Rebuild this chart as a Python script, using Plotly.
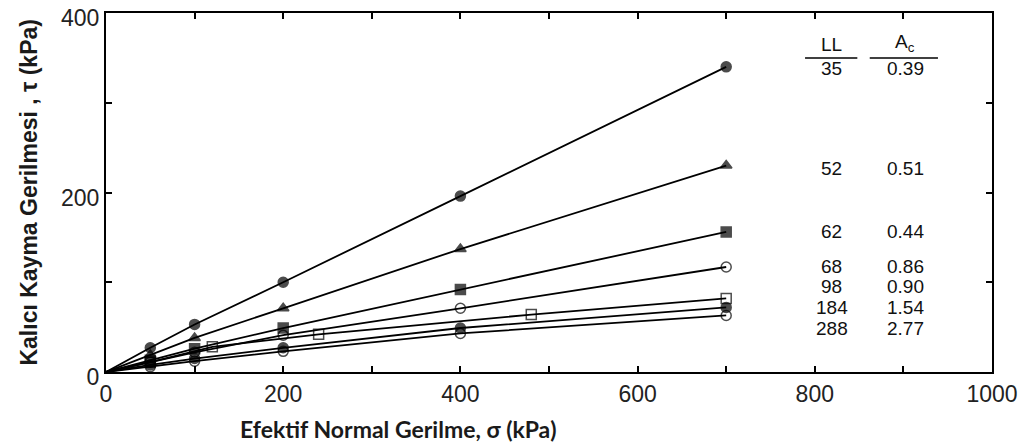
import plotly.graph_objects as go

# ---- data ----
sigma_std = [0, 50, 100, 200, 400, 700]
sigma_ll98 = [0, 50, 120, 240, 480, 700]

tau_ll35 = [0, 27, 53, 100, 196, 340]
tau_ll52 = [0, 19, 38, 71, 137, 230]
tau_ll62 = [0, 13, 26, 49, 92, 156]
tau_ll68 = [0, 11, 22, 41, 71, 117]
tau_ll98 = [0, 11, 28, 42, 64, 82]
tau_ll184 = [0, 8, 15, 27, 49, 72]
tau_ll288 = [0, 6, 12, 23, 43, 63]

ll_labels = ["35", "52", "62", "68", "98", "184", "288"]
ac_labels = ["0.39", "0.51", "0.44", "0.86", "0.90", "1.54", "2.77"]

x_ticks = [0, 100, 200, 300, 400, 500, 600, 700, 800, 900, 1000]
x_ticktext = ["0", "", "200", "", "400", "", "600", "", "800", "", "1000"]
y_ticks = [0, 100, 200, 300, 400]
y_ticktext = ["0", "", "200", "", "400"]

# ---- styling / layout settings ----
series = [
    (sigma_std, tau_ll35, "circle"),
    (sigma_std, tau_ll52, "triangle-up"),
    (sigma_std, tau_ll62, "square"),
    (sigma_std, tau_ll68, "circle-open"),
    (sigma_ll98, tau_ll98, "square-open"),
    (sigma_std, tau_ll184, "circle"),
    (sigma_std, tau_ll288, "circle-open"),
]
label_y = [338, 227, 156, 118, 95, 72, 49]
ll_x = 819
ac_x = 902

fig = go.Figure()
for xs, ys, sym in series:
    sizes = [0] + [10] * (len(xs) - 1)
    fig.add_trace(go.Scatter(
        x=xs, y=ys, mode="lines+markers",
        line=dict(color="black", width=1.8),
        marker=dict(symbol=sym, size=sizes, color="black",
                    line=dict(color="black", width=1.5)),
        showlegend=False, hoverinfo="skip",
    ))

tick_font = dict(family="Liberation Sans, Arial", size=23, color="#222")

fig.update_xaxes(range=[0, 1000], tickvals=x_ticks, ticktext=x_ticktext,
                 ticks="inside", ticklen=6, tickwidth=1.5, tickcolor="black",
                 showline=True, linecolor="black", linewidth=2, mirror="ticks",
                 showgrid=False, zeroline=False, tickfont=tick_font, automargin=False,
                 ticklabeloverflow="allow")
fig.update_yaxes(range=[0, 400], tickvals=y_ticks, ticktext=y_ticktext,
                 ticks="inside", ticklen=6, tickwidth=1.5, tickcolor="black",
                 showline=True, linecolor="black", linewidth=2, mirror="ticks",
                 showgrid=False, zeroline=False, tickfont=tick_font, automargin=False,
                 ticklabeloverflow="allow", ticklabelshift=5)

annotations = []
txt_font = dict(family="Liberation Sans, Arial", size=19, color="#111")
for ll, ac, yy in zip(ll_labels, ac_labels, label_y):
    annotations.append(dict(x=ll_x, y=yy, xref="x", yref="y", text=ll,
                            showarrow=False, font=txt_font, borderpad=0))
    annotations.append(dict(x=ac_x, y=yy, xref="x", yref="y", text=ac,
                            showarrow=False, font=txt_font, borderpad=0))
annotations.append(dict(x=ll_x, y=365, xref="x", yref="y", text="LL",
                        showarrow=False, font=txt_font))
annotations.append(dict(x=ac_x, y=367, xref="x", yref="y", text="A<sub>c</sub>",
                        showarrow=False, font=txt_font))
annotations.append(dict(x=0.33, y=-0.16, xref="paper", yref="paper",
                        text="<b>Efektif Normal Gerilme, σ (kPa)</b>",
                        showarrow=False, xanchor="center", yanchor="middle",
                        font=dict(family="Lato, Open Sans", size=23, color="#1a1a1a")))
annotations.append(dict(x=-0.088, y=0.5, xref="paper", yref="paper",
                        text="<b>Kalıcı Kayma Gerilmesi , τ (kPa)</b>",
                        showarrow=False, textangle=-90, xanchor="center", yanchor="middle",
                        font=dict(family="Liberation Sans, Arial", size=23, color="#1a1a1a")))

shapes = [
    dict(type="line", xref="x", yref="y", x0=789, x1=848, y0=350, y1=350,
         line=dict(color="black", width=1.5)),
    dict(type="line", xref="x", yref="y", x0=862, x1=939, y0=350, y1=350,
         line=dict(color="black", width=1.5)),
]

fig.update_layout(
    width=1022, height=448,
    margin=dict(l=106, r=30, t=13, b=76),
    paper_bgcolor="white", plot_bgcolor="white",
    annotations=annotations, shapes=shapes,
)

fig.write_html("out.html")
